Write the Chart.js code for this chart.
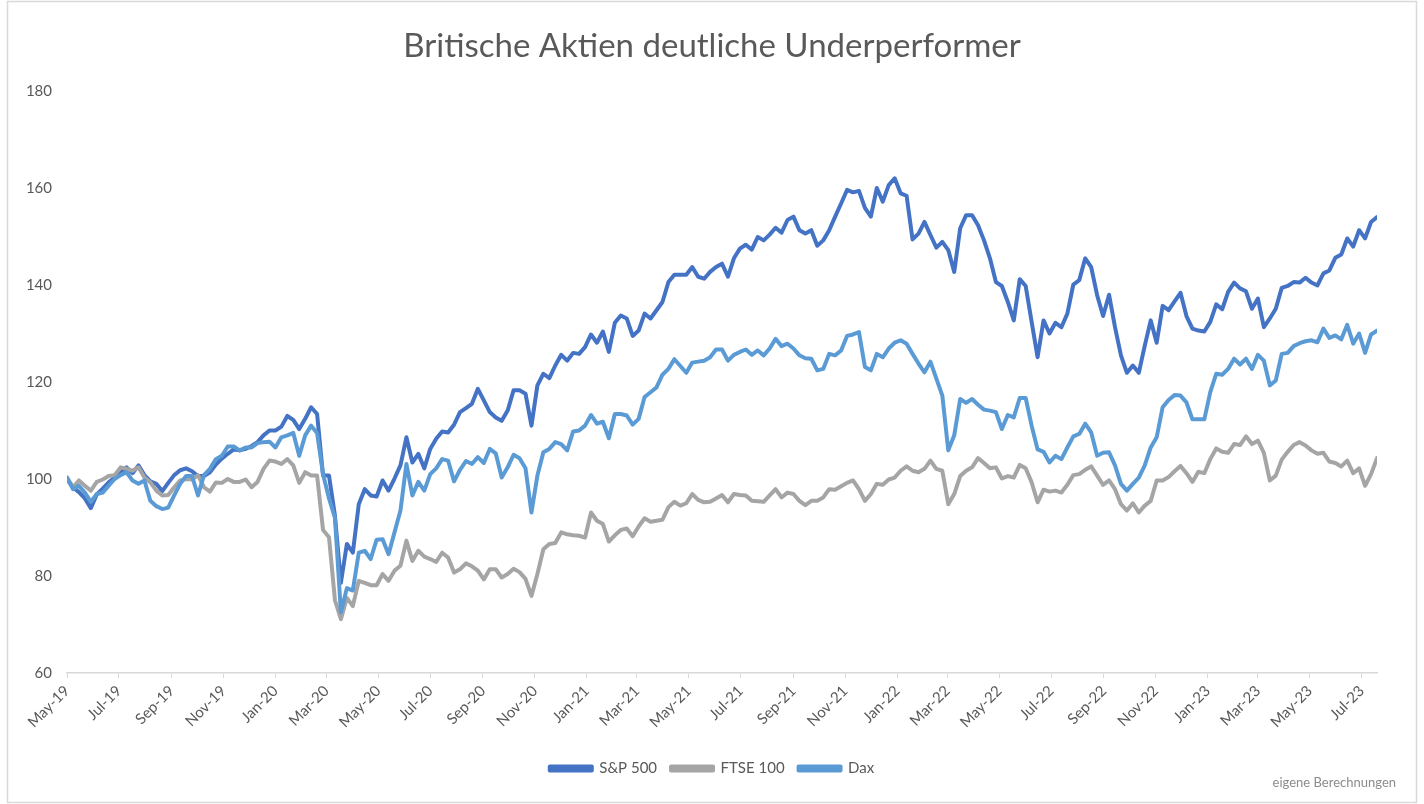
<!DOCTYPE html>
<html>
<head>
<meta charset="utf-8">
<script src="https://cdn.jsdelivr.net/npm/chart.js@4.4.1/dist/chart.umd.min.js"></script>
<style>
  html, body { margin: 0; padding: 0; background: #ffffff; }
  #wrap { width: 1424px; height: 804px; position: relative; }
</style>
</head>
<body>
<div id="wrap"><canvas id="c"></canvas></div>
<script>
// ---- Data (weekly index levels, start = 100, first week 3 May 2019) ----
const seriesNames = ['S&P 500', 'FTSE 100', 'Dax'];
const startDate = [2019, 4, 3]; // year, month (0-based), day of first weekly observation

const tickLabels = ['May-19','Jul-19','Sep-19','Nov-19','Jan-20','Mar-20','May-20','Jul-20','Sep-20','Nov-20',
  'Jan-21','Mar-21','May-21','Jul-21','Sep-21','Nov-21','Jan-22','Mar-22','May-22','Jul-22','Sep-22','Nov-22',
  'Jan-23','Mar-23','May-23','Jul-23'];

const spx = [
  100, 98.3, 97.3, 96, 94, 96.8, 98, 99.3, 100.3, 101.3,
  102.4, 101.2, 102.8, 100.8, 99.5, 99, 97.5, 99.2, 100.8, 101.8,
  102.2, 101.6, 100.6, 100.6, 101.4, 103, 104.2, 105.2, 106.1, 105.9,
  106.2, 106.8, 107.6, 109, 110, 110, 110.8, 113, 112.2, 110.3,
  112.4, 114.8, 113.4, 100.7, 100.7, 92.4, 78.6, 86.6, 84.8, 94.8,
  97.9, 96.6, 96.4, 99.7, 97.6, 100.1, 102.8, 108.6, 103.4, 105.2,
  102.2, 106.2, 108.3, 109.8, 109.6, 111.2, 113.8, 114.6, 115.5, 118.6,
  116.2, 113.8, 112.7, 112, 114.1, 118.3, 118.3, 117.6, 111, 119.3,
  121.7, 120.8, 123.4, 125.6, 124.4, 126, 125.8, 127.2, 129.8, 128.1,
  130.4, 126.2, 132.2, 133.7, 133.1, 129.5, 130.6, 134.1, 133.1, 134.8,
  136.5, 140.6, 142.1, 142.1, 142.1, 143.7, 141.7, 141.3, 142.7, 143.7,
  144.4, 141.7, 145.5, 147.5, 148.3, 147.3, 149.9, 149.2, 150.4, 151.8,
  150.8, 153.4, 154.1, 151.3, 150.6, 151.3, 148.1, 149.2, 151.3, 154.1,
  156.8, 159.6, 159.1, 159.4, 155.9, 154.1, 160, 157.2, 160.6, 162,
  158.9, 158.4, 149.4, 150.6, 153, 150.3, 147.7, 148.9, 147.2, 142.7,
  151.7, 154.4, 154.4, 152.3, 149.2, 145.5, 140.6, 139.8, 136.5, 132.7,
  141.2, 139.8, 132.4, 125.1, 132.7, 130, 132.2, 131.3, 134.1, 140.1,
  141, 145.5, 143.7, 137.9, 133.6, 138, 131.3, 125.5, 121.9, 123.4,
  121.9, 127.5, 132.7, 128.1, 135.7, 134.8, 136.6, 138.4, 133.6, 131,
  130.6, 130.4, 132.4, 136, 135, 138.6, 140.5, 139.3, 138.7, 135.1,
  137.2, 131.3, 133.1, 135.1, 139.4, 139.8, 140.6, 140.5, 141.5, 140.5,
  139.9, 142.4, 143, 145.6, 146.3, 149.6, 147.9, 151.3, 149.6, 153, 154
];

const ftse = [
  100.3, 98.3, 99.7, 98.6, 97.6, 99.4, 99.9, 100.6, 100.8, 102.4,
  102.1, 101.7, 102.4, 100.3, 99.3, 97.6, 96.6, 96.7, 98.3, 99.7,
  100, 99.9, 100.8, 98.3, 97.4, 99.3, 99.2, 100, 99.4, 99.4,
  99.9, 98.3, 99.4, 102.1, 103.8, 103.6, 103.1, 104.1, 102.8, 99.2,
  101.4, 100.7, 100.7, 89.5, 88, 75, 71.1, 75.5, 73.8, 79,
  78.6, 78.1, 78.1, 80.4, 79, 81.1, 82.1, 87.3, 83.1, 85.2,
  84, 83.5, 82.9, 84.8, 83.8, 80.7, 81.4, 82.6, 82, 81.1,
  79.3, 81.4, 81.4, 79.7, 80.4, 81.5, 80.8, 79.4, 75.9, 80.4,
  85.5, 86.6, 86.8, 89, 88.6, 88.4, 88.3, 87.9, 93.1, 91.4,
  90.7, 87.1, 88.4, 89.5, 89.8, 88.2, 90.2, 91.9, 91.2, 91.4,
  91.6, 94.2, 95.3, 94.5, 95, 96.9, 95.7, 95.2, 95.3, 96,
  96.7, 95.2, 96.9, 96.7, 96.6, 95.5, 95.4, 95.3, 96.6, 97.9,
  96.2, 97.2, 96.9, 95.5, 94.6, 95.5, 95.5, 96.2, 97.9, 97.8,
  98.5, 99.2, 99.7, 97.9, 95.5, 96.9, 99, 98.8, 99.9, 100.3,
  101.7, 102.6, 101.7, 101.4, 102.1, 103.8, 102.1, 101.7, 94.8, 96.9,
  100.6, 101.7, 102.4, 104.3, 103.3, 102.2, 102.4, 100.1, 100.6, 100.3,
  102.9, 102.2, 99.3, 95.2, 97.8, 97.4, 97.6, 97.2, 98.8, 100.8,
  101, 101.9, 102.6, 100.7, 98.8, 99.7, 97.9, 94.8, 93.5, 95,
  93.1, 94.5, 95.5, 99.7, 99.7, 100.4, 101.6, 102.7, 101.2, 99.4,
  101.5, 101.2, 104.1, 106.3, 105.6, 105.4, 107.2, 107, 108.8, 107.2,
  107.9, 105.4, 99.7, 100.7, 104, 105.6, 107, 107.6, 106.9, 105.9,
  105.2, 105.4, 103.6, 103.3, 102.6, 103.8, 101.2, 102.2, 98.6, 101, 104.3
];

const dax = [
  100.3, 97.9, 98.6, 97.2, 95.3, 96.9, 97.2, 98.6, 100, 100.8,
  101.4, 99.7, 99, 99.7, 95.5, 94.4, 93.8, 94.1, 96.6, 99,
  100.6, 100.6, 96.6, 100.8, 102.1, 104.1, 104.8, 106.7, 106.7, 105.9,
  106.5, 106.5, 107.4, 107.6, 107.7, 106.5, 108.6, 109, 109.5, 104.8,
  109, 111, 109.5, 101, 96, 92, 72.5, 77.5, 77, 84.8,
  85.2, 83.5, 87.5, 87.6, 84.5, 89, 93.5, 103.1, 96.6, 99.4,
  97.6, 101, 102.2, 104.1, 103.8, 99.5, 101.9, 103.7, 103.1, 104.5,
  103.3, 106.2, 105.3, 100.3, 102.4, 105, 104.3, 102.2, 93.1, 100.7,
  105.5, 106.2, 107.6, 107.2, 105.9, 109.8, 110, 111, 113.2, 111.4,
  111.8, 108.4, 113.4, 113.4, 113.1, 111.2, 112.4, 116.9, 117.9, 118.9,
  121.5, 122.7, 124.7, 123.3, 121.9, 124, 124.2, 124.4, 125.1, 126.7,
  126.7, 124.4, 125.6, 126.2, 126.7, 125.6, 126.5, 125.5, 126.9, 128.9,
  127.4, 127.9, 126.9, 125.5, 124.9, 124.8, 122.4, 122.7, 125.8, 125.5,
  126.5, 129.5, 129.8, 130.3, 123.1, 122.4, 125.8, 125.1, 126.9, 128.1,
  128.6, 127.9, 125.8, 123.8, 122, 124.2, 120.7, 117.2, 105.9, 109,
  116.5, 115.7, 116.5, 115.3, 114.3, 114.1, 113.8, 110.3, 113.2, 112.7,
  116.7, 116.7, 111, 106.1, 105.6, 103.4, 104.8, 104.1, 106.5, 108.8,
  109.3, 111.4, 109.6, 104.8, 105.4, 105.5, 102.8, 99, 97.6, 99,
  100.3, 102.8, 106.5, 108.6, 114.8, 116.3, 117.3, 117.2, 115.8, 112.3,
  112.3, 112.3, 117.9, 121.7, 121.5, 122.7, 124.8, 123.6, 124.8, 122.7,
  125.6, 124.4, 119.3, 120.3, 125.8, 126, 127.4, 128, 128.4, 128.6,
  128.2, 131, 129.1, 129.6, 128.8, 131.8, 127.9, 130, 126, 129.8, 130.6
];

// ---- helpers ----
const DAY = 86400000;
const t0 = Date.UTC(startDate[0], startDate[1], startDate[2]);
const weekX = i => i * 7; // days since first observation
const toPoints = arr => arr.map((v, i) => ({ x: weekX(i), y: v }));
const tickDays = tickLabels.map((_, k) =>
  Math.round((Date.UTC(startDate[0], startDate[1] + 2 * k, startDate[2]) - t0) / DAY));
const lastDay = weekX(spx.length - 1);

const TEXT = '#595959';
const FONT = 'Lato';

const decor = {
  id: 'decor',
  beforeDraw(chart) {
    const c = chart.ctx;
    c.save();
    c.fillStyle = '#ffffff';
    c.fillRect(0, 0, chart.width, chart.height);
    c.strokeStyle = '#D9D9D9';
    c.lineWidth = 1.5;
    c.strokeRect(7.5, 1.5, chart.width - 15, chart.height - 3);
    c.restore();
  },
  afterDraw(chart) {
    const c = chart.ctx;
    c.save();
    c.fillStyle = '#8C8C8C';
    c.font = '13px ' + FONT;
    c.textAlign = 'right';
    c.textBaseline = 'middle';
    c.fillText('eigene Berechnungen', 1396, 783);
    c.restore();
  }
};

new Chart(document.getElementById('c'), {
  type: 'line',
  data: {
    datasets: [
      { label: seriesNames[0], data: toPoints(spx), borderColor: '#4472C4', backgroundColor: '#4472C4', order: 3 },
      { label: seriesNames[1], data: toPoints(ftse), borderColor: '#A5A5A5', backgroundColor: '#A5A5A5', order: 2 },
      { label: seriesNames[2], data: toPoints(dax), borderColor: '#5B9BD5', backgroundColor: '#5B9BD5', order: 1 }
    ]
  },
  options: {
    responsive: true,
    maintainAspectRatio: false,
    animation: false,
    layout: { padding: { top: 10, right: 0, bottom: 18, left: 0 } },
    elements: {
      line: { borderWidth: 4, tension: 0, borderJoinStyle: 'round', borderCapStyle: 'round', fill: false },
      point: { radius: 0, hoverRadius: 0 }
    },
    plugins: {
      title: {
        display: true,
        text: 'Britische Aktien deutliche Underperformer',
        color: TEXT,
        font: { family: FONT, size: 33, weight: 'normal' },
        padding: { top: 17, bottom: 24.4 }
      },
      legend: {
        position: 'bottom',
        labels: {
          boxWidth: 42,
          boxHeight: 4,
          color: TEXT,
          font: { family: FONT, size: 15 },
          padding: 14,
          sort: (a, b) => a.datasetIndex - b.datasetIndex
        }
      },
      tooltip: { enabled: false }
    },
    scales: {
      x: {
        type: 'linear',
        min: 0,
        max: lastDay,
        afterBuildTicks: s => { s.ticks = tickDays.map(v => ({ value: v })); },
        afterFit: s => { s.height = 74; },
        ticks: {
          autoSkip: false,
          maxRotation: 45,
          minRotation: 45,
          color: TEXT,
          font: { family: FONT, size: 15 },
          padding: 4,
          callback: (v, i) => tickLabels[i]
        },
        grid: { display: true, drawOnChartArea: false, drawTicks: true, tickLength: 5, color: '#D9D9D9', lineWidth: 1 },
        border: { display: true, color: '#D9D9D9', width: 1.5 }
      },
      y: {
        min: 60,
        max: 180,
        afterFit: s => { s.width = 67; },
        ticks: { stepSize: 20, color: TEXT, font: { family: FONT, size: 15 }, padding: 15 },
        grid: { display: false, drawTicks: false },
        border: { display: false }
      },
      yRightSpace: {
        type: 'linear',
        position: 'right',
        display: true,
        afterFit: s => { s.width = 47; },
        ticks: { display: false },
        grid: { display: false, drawTicks: false },
        border: { display: false }
      }
    }
  },
  plugins: [decor]
});
</script>
</body>
</html>
